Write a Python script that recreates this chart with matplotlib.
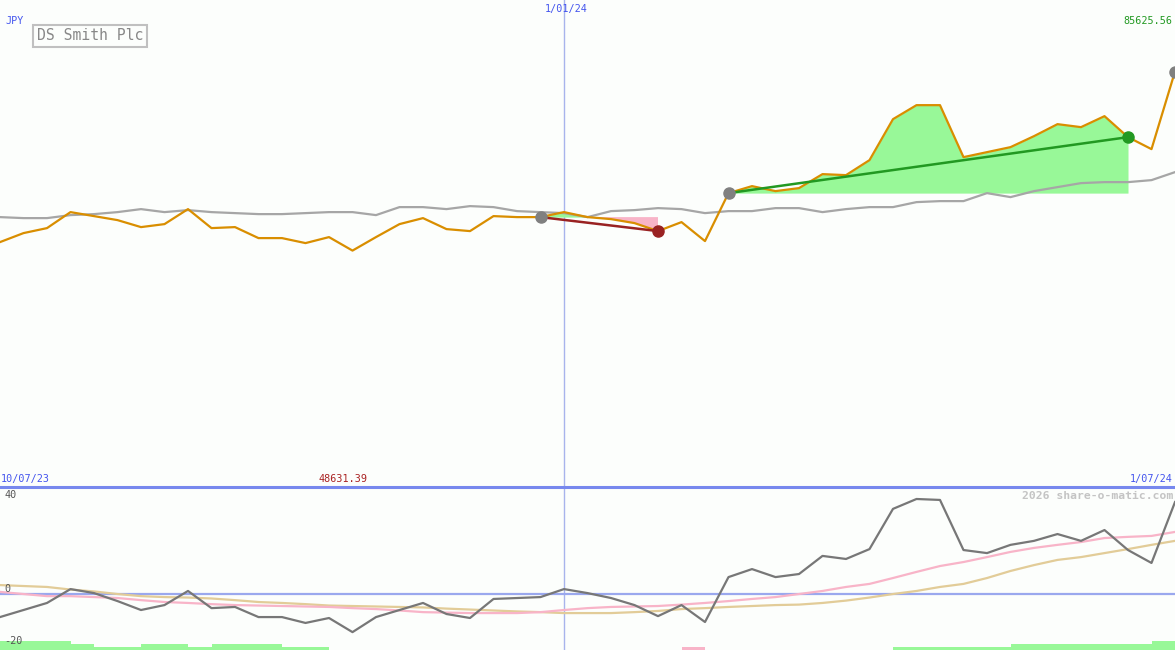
"""DS Smith Plc weekly price chart with relative-performance panel."""

import matplotlib
matplotlib.use("Agg")
import matplotlib.pyplot as plt
import numpy as np
import pandas as pd

W, H = 1175, 650
BG = "#fcfefc"
MONO = "DejaVu Sans Mono"

# weekly closes, JPY
dates = pd.date_range("2023-07-17", periods=51, freq="7D")
price = [50386, 52245, 53277, 56581, 55755, 54929, 53484, 54103, 57201, 53277,
         53484, 51212, 51212, 50180, 51419, 48631.39, 51419, 54103, 55342, 53071,
         52658, 55755, 55549, 55549, 56581, 55549, 55136, 54310, 52658, 54516,
         50593, 60505, 61950, 60918, 61537, 64428, 64222, 67319, 75786, 78677,
         78677, 67939, 68971, 70004, 72275, 74753, 74134, 76405, 72069, 69591,
         85625.56]
# benchmark, rebased
bench = [55549, 55342, 55342, 55962, 56168, 56581, 57201, 56581, 56994, 56581,
         56375, 56168, 56168, 56375, 56581, 56581, 55962, 57614, 57614, 57201,
         57820, 57614, 56788, 56581, 56375, 55549, 56788, 56994, 57407, 57201,
         56375, 56788, 56788, 57407, 57407, 56581, 57201, 57614, 57614, 58646,
         58853, 58853, 60505, 59679, 60918, 61744, 62570, 62776, 62776, 63189,
         64841]

# relative strength (%) and its two moving averages
rel = [-9.8, -6.8, -3.8, 2.1, 0.4, -3.0, -6.8, -4.7, 1.3, -6.0,
       -5.5, -9.8, -9.8, -12.3, -10.2, -16.2, -9.8, -6.8, -3.8, -8.5,
       -10.2, -2.1, -1.7, -1.3, 2.1, 0.4, -1.7, -4.7, -9.4, -4.7,
       -11.9, 7.2, 10.6, 7.2, 8.5, 16.2, 14.9, 19.1, 36.2, 40.4,
       40.0, 18.7, 17.4, 20.9, 22.6, 25.5, 22.6, 27.2, 18.7, 13.2,
       39.1]
ma_short = [0.9, 0.0, -0.9, -0.9, -1.3, -1.7, -2.6, -3.4, -3.8, -4.3,
            -4.7, -4.9, -5.1, -5.3, -5.5, -6.0, -6.4, -7.0, -7.7, -7.9,
            -8.1, -8.1, -8.1, -7.7, -6.8, -6.0, -5.5, -5.3, -5.1, -4.5,
            -3.8, -3.0, -2.1, -1.3, 0.0, 1.3, 3.0, 4.3, 6.8, 9.4,
            11.9, 13.6, 15.7, 17.9, 19.6, 20.9, 22.1, 23.8, 24.3, 24.7,
            26.4]
ma_long = [3.8, 3.4, 3.0, 1.9, 1.1, 0.0, -0.9, -1.3, -1.5, -1.9,
           -2.6, -3.4, -3.8, -4.3, -4.9, -5.1, -5.3, -5.5, -5.7, -6.2,
           -6.6, -7.0, -7.4, -7.7, -8.1, -8.1, -8.1, -7.7, -7.2, -6.4,
           -6.0, -5.5, -5.1, -4.7, -4.5, -3.8, -2.8, -1.5, 0.0, 1.3,
           3.0, 4.3, 6.8, 9.8, 12.3, 14.5, 15.7, 17.4, 19.1, 20.9,
           22.6]
# signal strength per week (segment i spans week i..i+1)
signal = [3, 3, 3, 2, 1, 1, 2, 2, 1, 2, 2, 2, 1, 1, 0, 0, 0, 0, 0, 0,
          0, 0, 0, 0, 0, 0, 0, 0, 0, -1, 0, 0, 0, 0, 0, 0, 0, 0, 1, 1,
          1, 1, 1, 2, 2, 2, 2, 2, 2, 3]

trades = [(23, 28), (31, 48)]  # (entry, exit) week index
rel_ticks = [40, 0, -20]

price = np.array(price, dtype=float)
x = dates.to_numpy()

fig = plt.figure(figsize=(W / 100, H / 100), dpi=100, facecolor=BG)
ax = fig.add_axes([0, 164 / H, 1, 486 / H], facecolor=BG)
axb = fig.add_axes([0, 0, 1, 163 / H], facecolor=BG)

for a in (ax, axb):
    a.set_xlim(x[0], x[-1])
    a.set_xticks([])
    a.set_yticks([])
    for s in a.spines.values():
        s.set_visible(False)
    a.axvline(pd.Timestamp("2024-01-01"), color="#a8b4ec", lw=1, zorder=1)

ax.set_ylim(0, 100400)
axb.set_ylim(-23.8, 45.5)

# --- top panel ---
ax.plot(x, bench, color="#a6a6a6", lw=1.6, zorder=2)
for i0, i1 in trades:
    seg = slice(i0, i1 + 1)
    base = price[i0]
    ax.fill_between(x[seg], price[seg], base, where=price[seg] >= base,
                    interpolate=True, color="#98f898", lw=0, zorder=1.5)
    ax.fill_between(x[seg], price[seg], base, where=price[seg] <= base,
                    interpolate=True, color="#f8b4c8", lw=0, zorder=1.5)
ax.plot(x, price, color="#d98e00", lw=1.6, zorder=3)
for i0, i1 in trades:
    c = "#229922" if price[i1] > price[i0] else "#992222"
    ax.plot([x[i0], x[i1]], [price[i0], price[i1]], color=c, lw=1.8, zorder=4)
    ax.plot(x[i0], price[i0], "o", ms=8, color="#808080", zorder=5)
    ax.plot(x[i1], price[i1], "o", ms=8, color=c, zorder=5)
ax.plot(x[-1], price[-1], "o", ms=8, color="#808080", zorder=5, clip_on=False)

# --- bottom panel ---
axb.axhline(0, color="#9aa8ee", lw=1.6, zorder=1)
ylo = axb.get_ylim()[0]
for i, lv in enumerate(signal):
    if lv == 0:
        continue
    axb.bar(x[i], abs(lv) * 1.28, width=np.timedelta64(7, "D"), align="edge",
            bottom=ylo, color="#98f898" if lv > 0 else "#f8b4c8", lw=0,
            zorder=1)
axb.plot(x, ma_long, color="#e2cc98", lw=1.6, zorder=2)
axb.plot(x, ma_short, color="#f8b4c8", lw=1.6, zorder=2)
axb.plot(x, rel, color="#777777", lw=1.6, zorder=3)
for t in rel_ticks:
    axb.text(0.004, t, str(t), transform=axb.get_yaxis_transform(),
             va="bottom" if t >= 0 else "center", ha="left",
             fontsize=7.3, family=MONO, color="#555555")

# separator between panels
fig.add_artist(plt.Line2D([0, 1], [1 - 486.5 / H] * 2, color="#7788ee", lw=2.2))


def label(px, py, s, color, ha="left", size=7.3, **kw):
    fig.text(px / W, 1 - py / H, s, ha=ha, va="center", color=color,
             fontsize=size, family=MONO, **kw)


label(5, 21, "JPY", "#4455ee")
label(566, 9, "1/01/24", "#4455ee", ha="center")
label(1172, 21, "85625.56", "#229922", ha="right")
label(1, 479, "10/07/23", "#4455ee")
label(343, 479, "48631.39", "#aa2222", ha="center")
label(1173, 479, "1/07/24", "#4455ee", ha="right")
label(1173, 496, "2026 share-o-matic.com", "#c4c4c4", ha="right", size=8.2,
      weight="bold")
label(37, 36, "DS Smith Plc", "#888888", size=10.6,
      bbox=dict(boxstyle="square,pad=0.25", fc=BG, ec="#c0c0c0", lw=1.5))

fig.savefig("out.png", dpi=100, facecolor=BG)
